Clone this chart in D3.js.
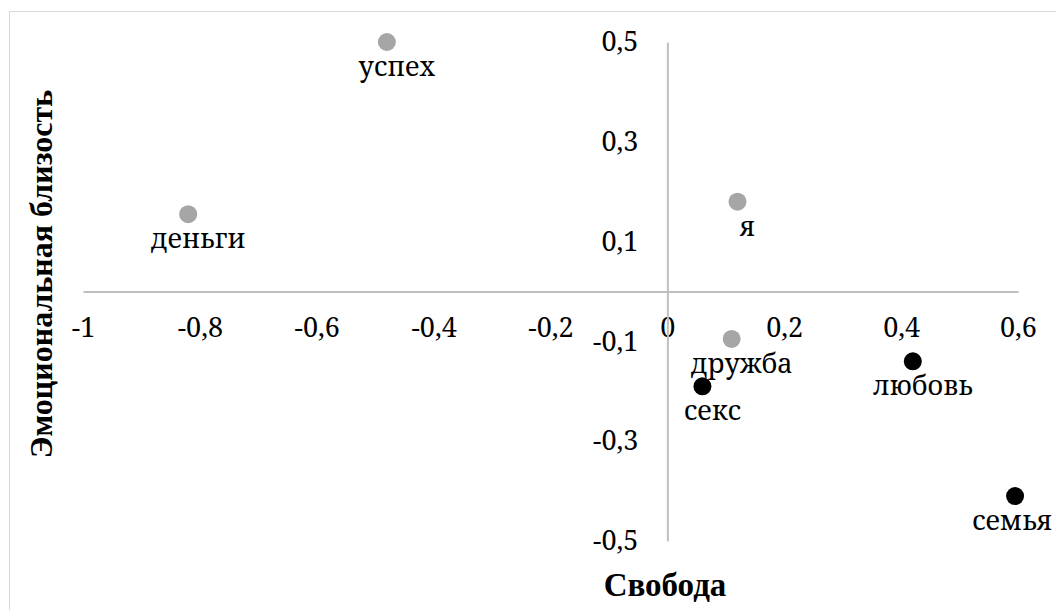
<!DOCTYPE html>
<html>
<head>
<meta charset="utf-8">
<script src="https://cdn.jsdelivr.net/npm/d3@7/dist/d3.min.js"></script>
</head>
<body style="margin:0">
<div id="chart"></div>
<script>
const labels = ['успех', 'деньги', 'я', 'дружба', 'секс', 'любовь', 'семья'];
const freedom = [-0.48, -0.82, 0.12, 0.11, 0.06, 0.42, 0.595];
const closeness = [0.5, 0.155, 0.18, -0.095, -0.19, -0.14, -0.41];
const groups = ['light', 'light', 'light', 'light', 'dark', 'dark', 'dark'];
const xTicks = [-1, -0.8, -0.6, -0.4, -0.2, 0, 0.2, 0.4, 0.6];
const yTicks = [-0.5, -0.3, -0.1, 0.1, 0.3, 0.5];

const regular = 'Noto Serif';
const bold = 'Liberation Serif';
const fmt = d => String(d).replace('.', ',');

const svg = d3.select('#chart').append('svg')
  .attr('width', 1056)
  .attr('height', 610);

// chart frame
svg.append('rect')
  .attr('x', 9.5).attr('y', 11.5)
  .attr('width', 1100).attr('height', 700)
  .attr('fill', 'none')
  .attr('stroke', '#d9d9d9');

const x = d3.scaleLinear().domain([-1, 0.6]).range([83, 1018]);
const y = d3.scaleLinear().domain([-0.5, 0.5]).range([541, 42]);

// axes through the origin, no tick marks
const xAxis = svg.append('g')
  .attr('transform', `translate(0,${y(0)})`)
  .call(d3.axisBottom(x).tickValues(xTicks).tickSize(0).tickPadding(26).tickFormat(fmt));
const yAxis = svg.append('g')
  .attr('transform', `translate(${x(0)},0)`)
  .call(d3.axisLeft(y).tickValues(yTicks).tickSize(0).tickPadding(29).tickFormat(fmt));

[xAxis, yAxis].forEach(g => {
  g.attr('font-family', regular).attr('font-size', 27);
  g.select('.domain').attr('stroke', '#bfbfbf').attr('stroke-width', 2);
  g.selectAll('text').attr('fill', '#000');
});
xAxis.selectAll('text').attr('dy', '0.71em');

const pts = labels.map((l, i) => ({ l, x: freedom[i], y: closeness[i], g: groups[i] }));

svg.append('g').selectAll('circle')
  .data(pts)
  .enter()
  .append('circle')
  .attr('cx', d => x(d.x))
  .attr('cy', d => y(d.y))
  .attr('r', 9)
  .attr('fill', d => d.g === 'dark' ? '#000' : '#a6a6a6');

svg.append('g').selectAll('text')
  .data(pts)
  .enter()
  .append('text')
  .attr('x', d => x(d.x) + (d.l === 'семья' ? -3 : 10))
  .attr('y', d => y(d.y) + 34)
  .attr('text-anchor', 'middle')
  .attr('font-size', 27)
  .attr('font-family', regular)
  .text(d => d.l);

svg.append('text')
  .attr('x', 665).attr('y', 596)
  .attr('text-anchor', 'middle')
  .attr('font-size', 33)
  .attr('font-weight', 'bold')
  .attr('font-family', bold)
  .text('Свобода');

svg.append('text')
  .attr('transform', 'translate(52,274) rotate(-90)')
  .attr('text-anchor', 'middle')
  .attr('font-size', 32)
  .attr('font-weight', 'bold')
  .attr('font-family', bold)
  .text('Эмоциональная близость');
</script>
</body>
</html>
